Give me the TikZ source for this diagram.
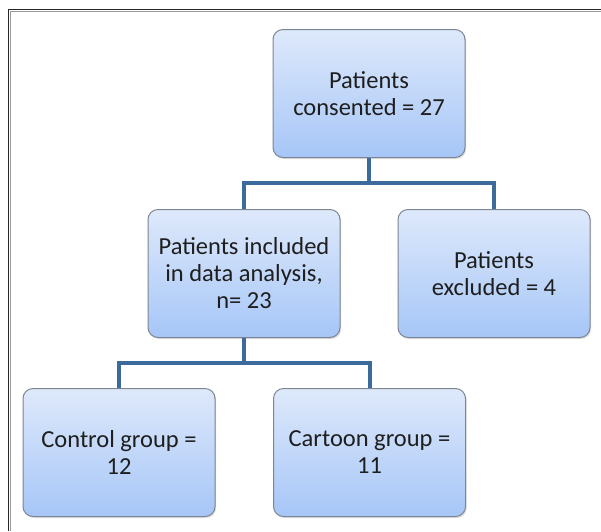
\documentclass[tikz,border=0pt]{standalone}
\usepackage{fontspec}
\setmainfont{Carlito}
\usetikzlibrary{shadows}
\definecolor{conn}{HTML}{3D6A9C}
\definecolor{boxtop}{HTML}{DEE9FB}
\definecolor{boxbot}{HTML}{A6C6F7}
\definecolor{boxline}{HTML}{7C8593}
\definecolor{textc}{HTML}{1E1E1E}
\tikzset{
  flowbox/.style={draw=boxline, line width=1pt, rounded corners=10pt,
    top color=boxtop, bottom color=boxbot, minimum width=192pt,
    minimum height=128pt, align=center, inner sep=4pt,
    font=\fontsize{24.5}{27}\selectfont, text=textc,
    drop shadow={opacity=0.25, shadow xshift=1.2pt, shadow yshift=-1.5pt}},
  connline/.style={draw=conn, line width=4pt}
}
\begin{document}
\begin{tikzpicture}[x=1pt,y=-1pt]
\useasboundingbox (0,0) rectangle (601,531);
\fill[white] (0,0) rectangle (601,531);
% frame
\draw[black!85, line width=1.6pt] (8.5,531) -- (8.5,9.5) -- (601,9.5);
\draw[black!40, line width=0.8pt] (10,531) -- (10,11) -- (601,11);
% boxes
\node[flowbox] (top) at (369,93.5) {Patients\\consented = 27};
\node[flowbox] (mid) at (244,273.5) {Patients included\\in data analysis,\\n= 23};
\node[flowbox] (excl) at (494,273.5) {Patients\\excluded = 4};
\node[flowbox] (ctrl) at (119,452.5) {Control group =\\12};
\node[flowbox] (cart) at (369.5,452.5) {Cartoon group =\\11};
% connectors
\coordinate (j1) at (369,183);
\coordinate (j2) at (244,363);
\draw[connline] (top.south) -- (j1);
\draw[connline] (mid.north) |- (j1) -| (excl.north);
\draw[connline] (mid.south) -- (j2);
\draw[connline] (ctrl.north) |- (j2) -| (cart.north);
\end{tikzpicture}
\end{document}
